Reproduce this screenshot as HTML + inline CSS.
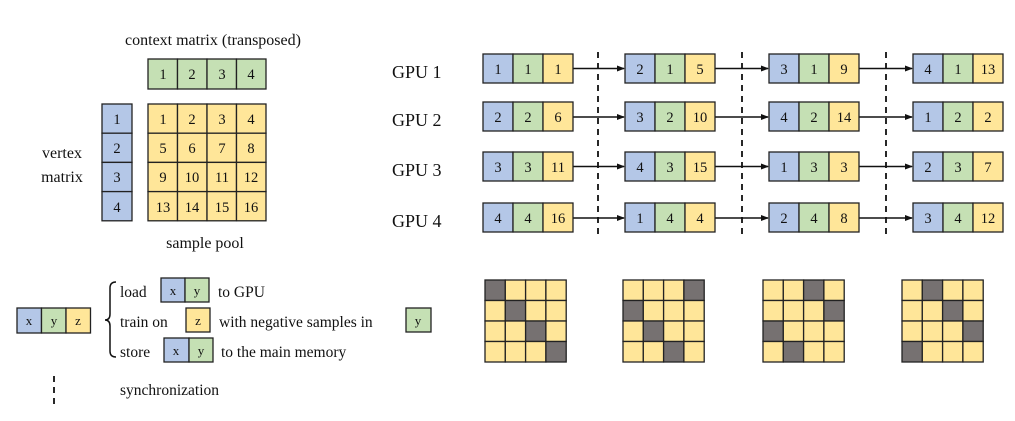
<!DOCTYPE html>
<html><head><meta charset="utf-8"><style>
html,body{margin:0;padding:0;background:#fff;width:1015px;height:421px;overflow:hidden}
svg text{font-family:"Liberation Serif",serif;fill:#111}
.b{fill:#b4c7e7}.g{fill:#c5e0b4}.y{fill:#ffe699}.d{fill:#767171}
rect{stroke:#222;stroke-width:1.3}
.n{font-size:14.5px;text-anchor:middle}
.l{font-size:15.5px}
.G{font-size:18px}
</style></head><body>
<svg width="1015" height="421" xmlns="http://www.w3.org/2000/svg">
<defs><marker id="a" markerWidth="8" markerHeight="8" refX="7" refY="4" orient="auto" markerUnits="userSpaceOnUse"><path d="M0,1 L8,4 L0,7 z" fill="#111"/></marker></defs>

<!-- left matrices -->
<text class="l" x="213" y="45" text-anchor="middle" style="font-size:16px">context matrix (transposed)</text>
<g>
<rect class="g" x="148" y="59" width="29.5" height="30"/><rect class="g" x="177.5" y="59" width="29.5" height="30"/><rect class="g" x="207" y="59" width="29.5" height="30"/><rect class="g" x="236.5" y="59" width="29.5" height="30"/>
<text class="n" x="163" y="79">1</text><text class="n" x="192" y="79">2</text><text class="n" x="222" y="79">3</text><text class="n" x="251" y="79">4</text>
</g>
<g>
<rect class="b" x="102" y="104" width="30" height="29.2"/><rect class="b" x="102" y="133.2" width="30" height="29.2"/><rect class="b" x="102" y="162.4" width="30" height="29.2"/><rect class="b" x="102" y="191.6" width="30" height="29.2"/>
<text class="n" x="117" y="124">1</text><text class="n" x="117" y="153">2</text><text class="n" x="117" y="182">3</text><text class="n" x="117" y="212">4</text>
</g>
<g>
<rect class="y" x="148" y="104" width="29.5" height="29.2"/><rect class="y" x="177.5" y="104" width="29.5" height="29.2"/><rect class="y" x="207" y="104" width="29.5" height="29.2"/><rect class="y" x="236.5" y="104" width="29.5" height="29.2"/>
<rect class="y" x="148" y="133.2" width="29.5" height="29.2"/><rect class="y" x="177.5" y="133.2" width="29.5" height="29.2"/><rect class="y" x="207" y="133.2" width="29.5" height="29.2"/><rect class="y" x="236.5" y="133.2" width="29.5" height="29.2"/>
<rect class="y" x="148" y="162.4" width="29.5" height="29.2"/><rect class="y" x="177.5" y="162.4" width="29.5" height="29.2"/><rect class="y" x="207" y="162.4" width="29.5" height="29.2"/><rect class="y" x="236.5" y="162.4" width="29.5" height="29.2"/>
<rect class="y" x="148" y="191.6" width="29.5" height="29.2"/><rect class="y" x="177.5" y="191.6" width="29.5" height="29.2"/><rect class="y" x="207" y="191.6" width="29.5" height="29.2"/><rect class="y" x="236.5" y="191.6" width="29.5" height="29.2"/>
<text class="n" x="163" y="124">1</text><text class="n" x="192" y="124">2</text><text class="n" x="222" y="124">3</text><text class="n" x="251" y="124">4</text>
<text class="n" x="163" y="153">5</text><text class="n" x="192" y="153">6</text><text class="n" x="222" y="153">7</text><text class="n" x="251" y="153">8</text>
<text class="n" x="163" y="182">9</text><text class="n" x="192" y="182">10</text><text class="n" x="222" y="182">11</text><text class="n" x="251" y="182">12</text>
<text class="n" x="163" y="212">13</text><text class="n" x="192" y="212">14</text><text class="n" x="222" y="212">15</text><text class="n" x="251" y="212">16</text>
</g>
<text class="l" x="62" y="158" text-anchor="middle" style="font-size:16px">vertex</text>
<text class="l" x="62" y="182" text-anchor="middle" style="font-size:16px">matrix</text>
<text class="l" x="205" y="248" text-anchor="middle" style="font-size:16px">sample pool</text>

<!-- GPU labels -->
<text class="G" x="392" y="78">GPU 1</text>
<text class="G" x="392" y="126">GPU 2</text>
<text class="G" x="392" y="176">GPU 3</text>
<text class="G" x="392" y="227">GPU 4</text>

<!-- dashed sync lines -->
<g stroke="#111" stroke-width="1.8" stroke-dasharray="6,5">
<line x1="598" y1="52" x2="598" y2="238"/><line x1="742" y1="52" x2="742" y2="238"/><line x1="886" y1="52" x2="886" y2="238"/>
</g>
<!-- arrows -->
<g stroke="#111" stroke-width="1.5" marker-end="url(#a)">
<line x1="573" y1="68.5" x2="624" y2="68.5"/><line x1="715" y1="68.5" x2="768" y2="68.5"/><line x1="859" y1="68.5" x2="912" y2="68.5"/>
<line x1="573" y1="117" x2="624" y2="117"/><line x1="715" y1="117" x2="768" y2="117"/><line x1="859" y1="117" x2="912" y2="117"/>
<line x1="573" y1="166.5" x2="624" y2="166.5"/><line x1="715" y1="166.5" x2="768" y2="166.5"/><line x1="859" y1="166.5" x2="912" y2="166.5"/>
<line x1="573" y1="218" x2="624" y2="218"/><line x1="715" y1="218" x2="768" y2="218"/><line x1="859" y1="218" x2="912" y2="218"/>
</g>

<!-- GPU boxes row 1 y=54 -->
<g>
<rect class="b" x="483" y="54" width="30" height="29"/><rect class="g" x="513" y="54" width="30" height="29"/><rect class="y" x="543" y="54" width="30" height="29"/>
<text class="n" x="498" y="74">1</text><text class="n" x="528" y="74">1</text><text class="n" x="558" y="74">1</text>
<rect class="b" x="625" y="54" width="30" height="29"/><rect class="g" x="655" y="54" width="30" height="29"/><rect class="y" x="685" y="54" width="30" height="29"/>
<text class="n" x="640" y="74">2</text><text class="n" x="670" y="74">1</text><text class="n" x="700" y="74">5</text>
<rect class="b" x="769" y="54" width="30" height="29"/><rect class="g" x="799" y="54" width="30" height="29"/><rect class="y" x="829" y="54" width="30" height="29"/>
<text class="n" x="784" y="74">3</text><text class="n" x="814" y="74">1</text><text class="n" x="844" y="74">9</text>
<rect class="b" x="913" y="54" width="30" height="29"/><rect class="g" x="943" y="54" width="30" height="29"/><rect class="y" x="973" y="54" width="30" height="29"/>
<text class="n" x="928" y="74">4</text><text class="n" x="958" y="74">1</text><text class="n" x="988" y="74">13</text>
</g>
<!-- row 2 y=102 -->
<g>
<rect class="b" x="483" y="102" width="30" height="29"/><rect class="g" x="513" y="102" width="30" height="29"/><rect class="y" x="543" y="102" width="30" height="29"/>
<text class="n" x="498" y="122">2</text><text class="n" x="528" y="122">2</text><text class="n" x="558" y="122">6</text>
<rect class="b" x="625" y="102" width="30" height="29"/><rect class="g" x="655" y="102" width="30" height="29"/><rect class="y" x="685" y="102" width="30" height="29"/>
<text class="n" x="640" y="122">3</text><text class="n" x="670" y="122">2</text><text class="n" x="700" y="122">10</text>
<rect class="b" x="769" y="102" width="30" height="29"/><rect class="g" x="799" y="102" width="30" height="29"/><rect class="y" x="829" y="102" width="30" height="29"/>
<text class="n" x="784" y="122">4</text><text class="n" x="814" y="122">2</text><text class="n" x="844" y="122">14</text>
<rect class="b" x="913" y="102" width="30" height="29"/><rect class="g" x="943" y="102" width="30" height="29"/><rect class="y" x="973" y="102" width="30" height="29"/>
<text class="n" x="928" y="122">1</text><text class="n" x="958" y="122">2</text><text class="n" x="988" y="122">2</text>
</g>
<!-- row 3 y=152 -->
<g>
<rect class="b" x="483" y="152" width="30" height="29"/><rect class="g" x="513" y="152" width="30" height="29"/><rect class="y" x="543" y="152" width="30" height="29"/>
<text class="n" x="498" y="172">3</text><text class="n" x="528" y="172">3</text><text class="n" x="558" y="172">11</text>
<rect class="b" x="625" y="152" width="30" height="29"/><rect class="g" x="655" y="152" width="30" height="29"/><rect class="y" x="685" y="152" width="30" height="29"/>
<text class="n" x="640" y="172">4</text><text class="n" x="670" y="172">3</text><text class="n" x="700" y="172">15</text>
<rect class="b" x="769" y="152" width="30" height="29"/><rect class="g" x="799" y="152" width="30" height="29"/><rect class="y" x="829" y="152" width="30" height="29"/>
<text class="n" x="784" y="172">1</text><text class="n" x="814" y="172">3</text><text class="n" x="844" y="172">3</text>
<rect class="b" x="913" y="152" width="30" height="29"/><rect class="g" x="943" y="152" width="30" height="29"/><rect class="y" x="973" y="152" width="30" height="29"/>
<text class="n" x="928" y="172">2</text><text class="n" x="958" y="172">3</text><text class="n" x="988" y="172">7</text>
</g>
<!-- row 4 y=203 -->
<g>
<rect class="b" x="483" y="203" width="30" height="29"/><rect class="g" x="513" y="203" width="30" height="29"/><rect class="y" x="543" y="203" width="30" height="29"/>
<text class="n" x="498" y="223">4</text><text class="n" x="528" y="223">4</text><text class="n" x="558" y="223">16</text>
<rect class="b" x="625" y="203" width="30" height="29"/><rect class="g" x="655" y="203" width="30" height="29"/><rect class="y" x="685" y="203" width="30" height="29"/>
<text class="n" x="640" y="223">1</text><text class="n" x="670" y="223">4</text><text class="n" x="700" y="223">4</text>
<rect class="b" x="769" y="203" width="30" height="29"/><rect class="g" x="799" y="203" width="30" height="29"/><rect class="y" x="829" y="203" width="30" height="29"/>
<text class="n" x="784" y="223">2</text><text class="n" x="814" y="223">4</text><text class="n" x="844" y="223">8</text>
<rect class="b" x="913" y="203" width="30" height="29"/><rect class="g" x="943" y="203" width="30" height="29"/><rect class="y" x="973" y="203" width="30" height="29"/>
<text class="n" x="928" y="223">3</text><text class="n" x="958" y="223">4</text><text class="n" x="988" y="223">12</text>
</g>

<!-- grids: cell 20.3 -->
<g transform="translate(485,280)">
<rect class="d" x="0" y="0" width="20.3" height="20.5"/><rect class="y" x="20.3" y="0" width="20.3" height="20.5"/><rect class="y" x="40.6" y="0" width="20.3" height="20.5"/><rect class="y" x="60.9" y="0" width="20.3" height="20.5"/>
<rect class="y" x="0" y="20.5" width="20.3" height="20.5"/><rect class="d" x="20.3" y="20.5" width="20.3" height="20.5"/><rect class="y" x="40.6" y="20.5" width="20.3" height="20.5"/><rect class="y" x="60.9" y="20.5" width="20.3" height="20.5"/>
<rect class="y" x="0" y="41" width="20.3" height="20.5"/><rect class="y" x="20.3" y="41" width="20.3" height="20.5"/><rect class="d" x="40.6" y="41" width="20.3" height="20.5"/><rect class="y" x="60.9" y="41" width="20.3" height="20.5"/>
<rect class="y" x="0" y="61.5" width="20.3" height="20.5"/><rect class="y" x="20.3" y="61.5" width="20.3" height="20.5"/><rect class="y" x="40.6" y="61.5" width="20.3" height="20.5"/><rect class="d" x="60.9" y="61.5" width="20.3" height="20.5"/>
</g>
<g transform="translate(623,280)">
<rect class="y" x="0" y="0" width="20.3" height="20.5"/><rect class="y" x="20.3" y="0" width="20.3" height="20.5"/><rect class="y" x="40.6" y="0" width="20.3" height="20.5"/><rect class="d" x="60.9" y="0" width="20.3" height="20.5"/>
<rect class="d" x="0" y="20.5" width="20.3" height="20.5"/><rect class="y" x="20.3" y="20.5" width="20.3" height="20.5"/><rect class="y" x="40.6" y="20.5" width="20.3" height="20.5"/><rect class="y" x="60.9" y="20.5" width="20.3" height="20.5"/>
<rect class="y" x="0" y="41" width="20.3" height="20.5"/><rect class="d" x="20.3" y="41" width="20.3" height="20.5"/><rect class="y" x="40.6" y="41" width="20.3" height="20.5"/><rect class="y" x="60.9" y="41" width="20.3" height="20.5"/>
<rect class="y" x="0" y="61.5" width="20.3" height="20.5"/><rect class="y" x="20.3" y="61.5" width="20.3" height="20.5"/><rect class="d" x="40.6" y="61.5" width="20.3" height="20.5"/><rect class="y" x="60.9" y="61.5" width="20.3" height="20.5"/>
</g>
<g transform="translate(763,280)">
<rect class="y" x="0" y="0" width="20.3" height="20.5"/><rect class="y" x="20.3" y="0" width="20.3" height="20.5"/><rect class="d" x="40.6" y="0" width="20.3" height="20.5"/><rect class="y" x="60.9" y="0" width="20.3" height="20.5"/>
<rect class="y" x="0" y="20.5" width="20.3" height="20.5"/><rect class="y" x="20.3" y="20.5" width="20.3" height="20.5"/><rect class="y" x="40.6" y="20.5" width="20.3" height="20.5"/><rect class="d" x="60.9" y="20.5" width="20.3" height="20.5"/>
<rect class="d" x="0" y="41" width="20.3" height="20.5"/><rect class="y" x="20.3" y="41" width="20.3" height="20.5"/><rect class="y" x="40.6" y="41" width="20.3" height="20.5"/><rect class="y" x="60.9" y="41" width="20.3" height="20.5"/>
<rect class="y" x="0" y="61.5" width="20.3" height="20.5"/><rect class="d" x="20.3" y="61.5" width="20.3" height="20.5"/><rect class="y" x="40.6" y="61.5" width="20.3" height="20.5"/><rect class="y" x="60.9" y="61.5" width="20.3" height="20.5"/>
</g>
<g transform="translate(902,280)">
<rect class="y" x="0" y="0" width="20.3" height="20.5"/><rect class="d" x="20.3" y="0" width="20.3" height="20.5"/><rect class="y" x="40.6" y="0" width="20.3" height="20.5"/><rect class="y" x="60.9" y="0" width="20.3" height="20.5"/>
<rect class="y" x="0" y="20.5" width="20.3" height="20.5"/><rect class="y" x="20.3" y="20.5" width="20.3" height="20.5"/><rect class="d" x="40.6" y="20.5" width="20.3" height="20.5"/><rect class="y" x="60.9" y="20.5" width="20.3" height="20.5"/>
<rect class="y" x="0" y="41" width="20.3" height="20.5"/><rect class="y" x="20.3" y="41" width="20.3" height="20.5"/><rect class="y" x="40.6" y="41" width="20.3" height="20.5"/><rect class="d" x="60.9" y="41" width="20.3" height="20.5"/>
<rect class="d" x="0" y="61.5" width="20.3" height="20.5"/><rect class="y" x="20.3" y="61.5" width="20.3" height="20.5"/><rect class="y" x="40.6" y="61.5" width="20.3" height="20.5"/><rect class="y" x="60.9" y="61.5" width="20.3" height="20.5"/>
</g>

<!-- legend -->
<g style="font-size:13px">
<rect class="b" x="17" y="308" width="24.5" height="25"/><rect class="g" x="41.5" y="308" width="24.5" height="25"/><rect class="y" x="66" y="308" width="24.5" height="25"/>
<text class="n" x="29" y="325" style="font-size:13px">x</text><text class="n" x="54" y="325" style="font-size:13px">y</text><text class="n" x="78" y="325" style="font-size:13px">z</text>
</g>
<path d="M116,282 Q110,282 110,288 L110,314 Q110,320 105,320 Q110,320 110,326 L110,351 Q110,357 116,357" fill="none" stroke="#111" stroke-width="1.5"/>
<text class="l" x="120" y="297">load</text>
<rect class="b" x="161" y="278" width="24" height="24"/><rect class="g" x="185" y="278" width="24" height="24"/>
<text class="n" x="173" y="295" style="font-size:13px">x</text><text class="n" x="197" y="295" style="font-size:13px">y</text>
<text class="l" x="218" y="297">to GPU</text>
<text class="l" x="120" y="327">train on</text>
<rect class="y" x="186" y="308" width="24" height="24"/>
<text class="n" x="198" y="325" style="font-size:13px">z</text>
<text class="l" x="219" y="327">with negative samples in</text>
<rect class="g" x="406" y="308" width="25" height="24"/>
<text class="n" x="418" y="325" style="font-size:13px">y</text>
<text class="l" x="120" y="357">store</text>
<rect class="b" x="164" y="338" width="25" height="24"/><rect class="g" x="189" y="338" width="24" height="24"/>
<text class="n" x="176" y="355" style="font-size:13px">x</text><text class="n" x="201" y="355" style="font-size:13px">y</text>
<text class="l" x="221" y="357">to the main memory</text>
<line x1="54" y1="376" x2="54" y2="406" stroke="#111" stroke-width="1.8" stroke-dasharray="6,5"/>
<text class="l" x="120" y="395">synchronization</text>
</svg>
</body></html>
